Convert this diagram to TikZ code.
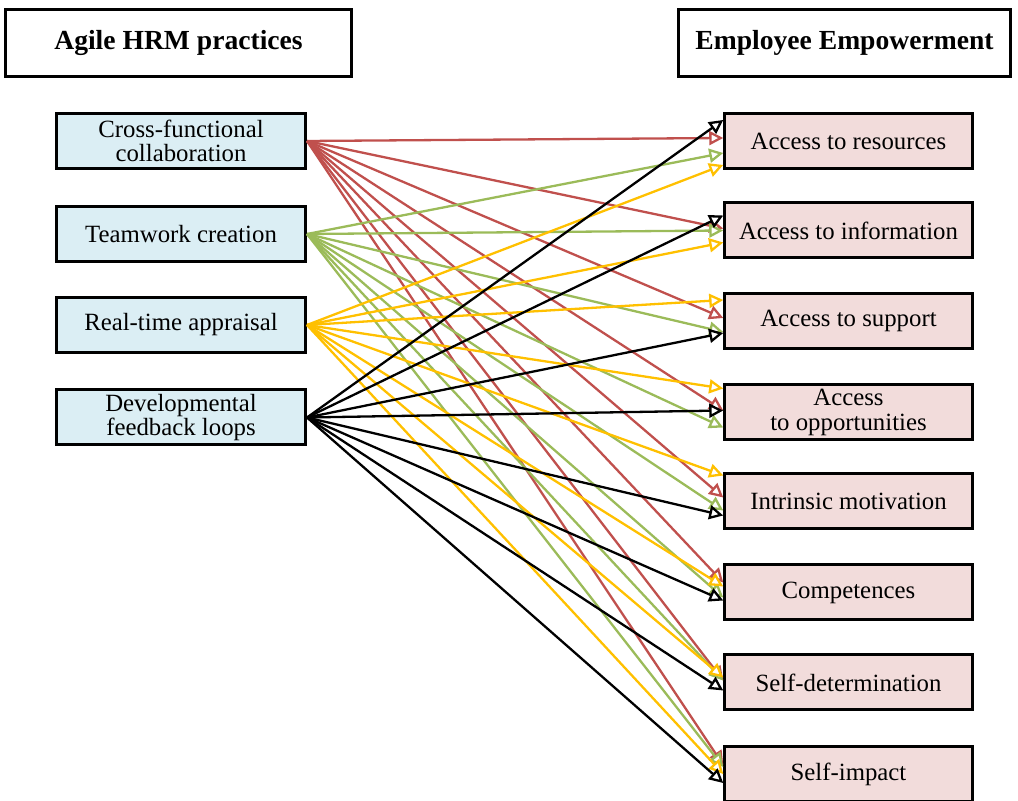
\documentclass[tikz,border=0pt]{standalone}
\usepackage{fontspec}
\setmainfont{Liberation Serif}
\usetikzlibrary{arrows.meta,calc}
\definecolor{cred}{RGB}{192,80,77}
\definecolor{cgreen}{RGB}{155,187,89}
\definecolor{cyellow}{RGB}{255,192,0}
\definecolor{lblue}{RGB}{219,238,244}
\definecolor{lpink}{RGB}{242,220,219}
\begin{document}
\begin{tikzpicture}[x=0.5pt,y=-0.5pt,
  header/.style={draw, line width=1.5pt, fill=white, minimum height=33.5pt, inner sep=0pt,
    font=\fontsize{13.8}{15}\selectfont\bfseries},
  lbox/.style={draw, line width=1.5pt, fill=lblue, minimum width=124.5pt, minimum height=27.5pt,
    inner sep=0pt, align=center, font=\fontsize{12.4}{12.2}\selectfont},
  rbox/.style={draw, line width=1.5pt, fill=lpink, minimum width=123.75pt, minimum height=27.5pt,
    inner sep=0pt, align=center, font=\fontsize{12.4}{12.2}\selectfont},
  conn/.style={line width=1.15pt, -{Triangle[open, fill=white, length=7pt, width=7pt]}}
]
\useasboundingbox (0,0) rectangle (1018,801);

\node[header, minimum width=173pt] (h1) at (178.5,43) {Agile HRM practices};
\node[header, minimum width=166pt] (h2) at (844.5,43) {Employee Empowerment};

\node[lbox] (l1) at (181,141) {Cross-functional\\collaboration};
\node[lbox] (l2) at (181,234) {Teamwork creation};
\node[lbox] (l3) at (181,325) {Real-time appraisal};
\node[lbox] (l4) at (181,417.5) {Developmental\\feedback loops};

\node[rbox] (r1) at (848.5,141) {Access to resources};
\node[rbox] (r2) at (848.5,230.5) {Access to information};
\node[rbox] (r3) at (848.5,321) {Access to support};
\node[rbox] (r4) at (848.5,412.5) {Access\\to opportunities};
\node[rbox] (r5) at (848.5,501.5) {Intrinsic motivation};
\node[rbox] (r6) at (848.5,592.5) {Competences};
\node[rbox] (r7) at (848.5,682.5) {Self-determination};
\node[rbox] (r8) at (848.5,774) {Self-impact};

\foreach \t/\dy in {1/-3,2/-2,3/-3,4/-2,5/-4,6/-10,7/-2,8/-9}
  \draw[conn, cred] (l1.east) -- ($(r\t.west)+(0,\dy)$);
\foreach \t/\dy in {1/12,2/0,3/11,4/15,5/9,6/5,7/-2,8/-7}
  \draw[conn, cgreen] (l2.east) -- ($(r\t.west)+(0,\dy)$);
\foreach \t/\dy in {1/24,2/12,3/-21,4/-24,5/-26,6/-6,7/-5,8/0}
  \draw[conn, cyellow] (l3.east) -- ($(r\t.west)+(0,\dy)$);
\foreach \t/\dy in {1/-21,2/-15,3/12,4/-2,5/14,6/8,7/8,8/9}
  \draw[conn, black] (l4.east) -- ($(r\t.west)+(0,\dy)$);
\end{tikzpicture}
\end{document}
